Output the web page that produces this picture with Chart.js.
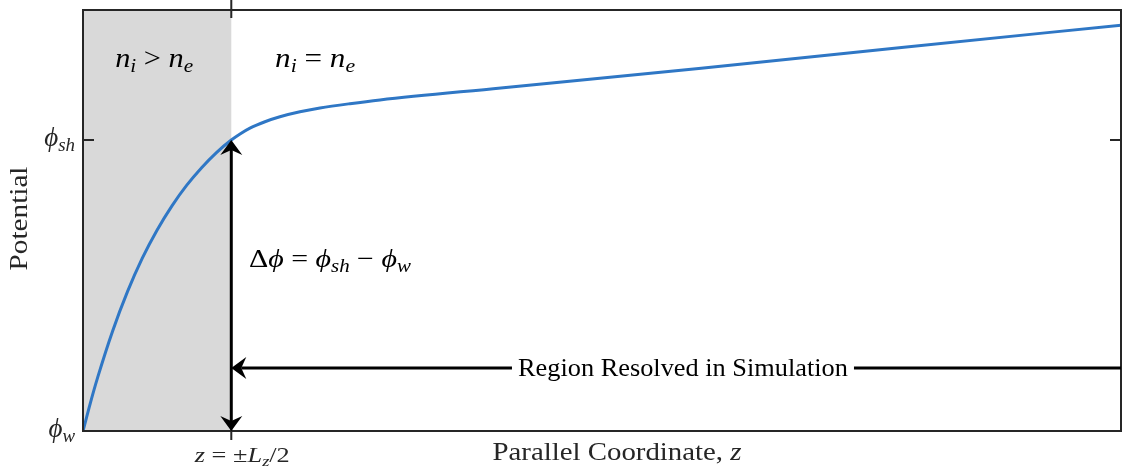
<!DOCTYPE html>
<html>
<head>
<meta charset="utf-8">
<script src="https://cdn.jsdelivr.net/npm/chart.js@4.4.1/dist/chart.umd.min.js"></script>
<style>
  html, body { margin: 0; padding: 0; background: #fff; }
  #wrap { width: 1125px; height: 472px; }
</style>
</head>
<body>
<div id="wrap"><canvas id="c" width="1125" height="472"></canvas></div>
<script>
// Sheath potential profile along the parallel coordinate z.
// z is measured in sheath widths (sheath edge at z = 1, i.e. z = ±L_z/2);
// the potential is normalised so that phi_w = 0 and phi_sh = 1.
const zValues   = [0, 0.05, 0.1, 0.2, 0.3, 0.4, 0.5, 0.6, 0.7, 0.8, 0.9, 1.0,
                   1.059, 1.126, 1.227, 1.328, 1.463, 1.598, 1.8, 2.003, 2.818, 4.169, 5.52, 7.0];
const phiValues = [0, 0.097, 0.186, 0.344, 0.479, 0.594, 0.691, 0.774, 0.845, 0.905, 0.957, 1.0,
                   1.021, 1.041, 1.063, 1.080, 1.097, 1.110, 1.125, 1.138, 1.179, 1.247, 1.318, 1.395];
const zRange   = [0, 7];
const phiRange = [0, 1.447];

const sheathEdge = 1.0;        // z = ±L_z/2
const phiWall    = 0;          // phi_w
const phiSheath  = 1.0;        // phi_sh
const phiRegionArrow = 0.2165; // height of the "Region Resolved" arrow

// Tick values and their labels; each label is a list of [text, style] runs
// style: 'n' upright, 'i' italic, second letter 's' = subscript
const yTickValues = [0, 1];
const yTickLabels = [
  [['ϕ', 'i'], ['w', 'is']],
  [['ϕ', 'i'], ['sh', 'is']]
];
const xTickValues = [1];
const xTickLabels = [
  [['z', 'i'], [' = ±', 'n'], ['L', 'i'], ['z', 'is'], ['/2', 'n']]
];

const xTitle = [['Parallel Coordinate, ', 'n'], ['z', 'i']];
const yTitle = [['Potential', 'n']];

// In-plot annotations, anchored in data coordinates
const notes = [
  { runs: [['n', 'i'], ['i', 'is'], [' > ', 'n'], ['n', 'i'], ['e', 'is']],
    z: 0.48, phi: 1.251, align: 'center', size: 27, width: 78 },
  { runs: [['n', 'i'], ['i', 'is'], [' = ', 'n'], ['n', 'i'], ['e', 'is']],
    z: 1.565, phi: 1.251, align: 'center', size: 27, width: 80 },
  { runs: [['Δ', 'n'], ['ϕ', 'i'], [' = ', 'n'], ['ϕ', 'i'], ['sh', 'is'], [' − ', 'n'], ['ϕ', 'i'], ['w', 'is']],
    z: 1.119, phi: 0.564, align: 'left', size: 26, width: 162 }
];
const regionLabel = { runs: [['Region Resolved in Simulation', 'n']], z: 4.046, size: 25, width: 330 };

const FONT = '"Liberation Serif", "Times New Roman", serif';
const AXIS_COLOR = '#262626';
const CURVE_COLOR = '#2f77c5';
const SHADE_COLOR = '#d9d9d9';

function fontFor(style, size) {
  const italic = style[0] === 'i';
  const sub = style[1] === 's';
  const s = sub ? size * 0.7 : size;
  return (italic ? 'italic ' : '') + s.toFixed(1) + 'px ' + FONT;
}
function runsWidth(ctx, runs, size) {
  let w = 0;
  for (const [t, st] of runs) { ctx.font = fontFor(st, size); w += ctx.measureText(t).width; }
  return w;
}
function drawRuns(ctx, runs, x, y, opt) {
  const size = opt.size;
  const natural = runsWidth(ctx, runs, size);
  const width = opt.width || natural;
  const sx = width / natural;
  ctx.save();
  ctx.translate(x, y);
  if (opt.rotate) ctx.rotate(opt.rotate);
  const x0 = opt.align === 'center' ? -width / 2 : opt.align === 'right' ? -width : 0;
  ctx.translate(x0, 0);
  ctx.scale(sx, 1);
  ctx.fillStyle = opt.color || '#000';
  ctx.textAlign = 'left';
  ctx.textBaseline = 'alphabetic';
  let cx = 0;
  for (const [t, st] of runs) {
    ctx.font = fontFor(st, size);
    const dy = st[1] === 's' ? size * 0.2 : 0;
    ctx.fillText(t, cx, dy);
    cx += ctx.measureText(t).width;
  }
  ctx.restore();
  return width;
}
function arrowHead(ctx, tx, ty, dx, dy) {
  const L = 15, hw = 11, notch = 5;
  const px = -dy, py = dx;
  ctx.beginPath();
  ctx.moveTo(tx, ty);
  ctx.lineTo(tx - dx * L + px * hw, ty - dy * L + py * hw);
  ctx.lineTo(tx - dx * (L - notch), ty - dy * (L - notch));
  ctx.lineTo(tx - dx * L - px * hw, ty - dy * L - py * hw);
  ctx.closePath();
  ctx.fillStyle = '#000';
  ctx.fill();
}

// Grey band marking the non-neutral sheath (n_i > n_e)
const sheathShade = {
  id: 'sheathShade',
  beforeDatasetsDraw(chart) {
    const { ctx, chartArea: a, scales: { x } } = chart;
    const x0 = x.getPixelForValue(zRange[0]);
    const x1 = x.getPixelForValue(sheathEdge);
    ctx.save();
    ctx.fillStyle = SHADE_COLOR;
    ctx.fillRect(x0, a.top, x1 - x0, a.bottom - a.top);
    ctx.restore();
  }
};

// Frame, ticks, labels, arrows and annotations
const decorations = {
  id: 'decorations',
  afterDatasetsDraw(chart) {
    const { ctx, chartArea: a, scales: { x, y } } = chart;
    ctx.save();

    // axes box
    ctx.strokeStyle = AXIS_COLOR;
    ctx.lineWidth = 2;
    ctx.strokeRect(a.left, a.top, a.right - a.left, a.bottom - a.top);

    // y ticks (inward, both sides)
    yTickValues.forEach(v => {
      const py = y.getPixelForValue(v);
      ctx.beginPath();
      ctx.moveTo(a.left, py); ctx.lineTo(a.left + 11, py);
      ctx.moveTo(a.right, py); ctx.lineTo(a.right - 11, py);
      ctx.stroke();
    });
    // x ticks (crossing the box at top and bottom)
    xTickValues.forEach(v => {
      const px = x.getPixelForValue(v);
      ctx.beginPath();
      ctx.moveTo(px, a.top - 10); ctx.lineTo(px, a.top + 8);
      ctx.moveTo(px, a.bottom - 8); ctx.lineTo(px, a.bottom + 9);
      ctx.stroke();
    });

    // tick labels
    yTickValues.forEach((v, i) => {
      drawRuns(ctx, yTickLabels[i], a.left - 8, y.getPixelForValue(v) + 6,
        { size: 27, align: 'right', color: AXIS_COLOR });
    });
    xTickValues.forEach((v, i) => {
      drawRuns(ctx, xTickLabels[i], x.getPixelForValue(v) + 11, a.bottom + 31,
        { size: 22, align: 'center', color: AXIS_COLOR, width: 95 });
    });

    // axis titles
    drawRuns(ctx, xTitle, (a.left + a.right) / 2 + 15, a.bottom + 29,
      { size: 25, align: 'center', color: AXIS_COLOR, width: 249 });
    drawRuns(ctx, yTitle, a.left - 56, (a.top + a.bottom) / 2 - 2,
      { size: 25, align: 'center', color: AXIS_COLOR, width: 104, rotate: -Math.PI / 2 });

    // vertical double arrow: potential drop across the sheath
    const xe = x.getPixelForValue(sheathEdge);
    const yTop = y.getPixelForValue(phiSheath);
    const yBot = y.getPixelForValue(phiWall);
    ctx.strokeStyle = '#000';
    ctx.lineWidth = 3;
    ctx.beginPath();
    ctx.moveTo(xe, yTop + 10); ctx.lineTo(xe, yBot - 10);
    ctx.stroke();
    arrowHead(ctx, xe, yTop, 0, -1);
    arrowHead(ctx, xe, yBot, 0, 1);

    // horizontal arrow: region resolved in simulation
    const yr = y.getPixelForValue(phiRegionArrow);
    const xr = x.getPixelForValue(zRange[1]);
    ctx.beginPath();
    ctx.moveTo(xr, yr); ctx.lineTo(xe + 10, yr);
    ctx.stroke();
    arrowHead(ctx, xe, yr, -1, 0);
    const cx = x.getPixelForValue(regionLabel.z);
    ctx.fillStyle = '#fff';
    ctx.fillRect(cx - regionLabel.width / 2 - 6, yr - 14, regionLabel.width + 12, 28);
    drawRuns(ctx, regionLabel.runs, cx, yr + 7.5,
      { size: regionLabel.size, align: 'center', width: regionLabel.width });

    // annotations
    notes.forEach(n => {
      drawRuns(ctx, n.runs, x.getPixelForValue(n.z), y.getPixelForValue(n.phi),
        { size: n.size, align: n.align, width: n.width });
    });

    ctx.restore();
  }
};

new Chart(document.getElementById('c').getContext('2d'), {
  type: 'line',
  data: {
    datasets: [{
      data: zValues.map((z, i) => ({ x: z, y: phiValues[i] })),
      borderColor: CURVE_COLOR,
      borderWidth: 3,
      pointRadius: 0,
      fill: false,
      cubicInterpolationMode: 'monotone'
    }]
  },
  options: {
    responsive: false,
    animation: false,
    events: [],
    layout: { padding: { left: 83, right: 4, top: 10, bottom: 41 } },
    plugins: { legend: { display: false }, tooltip: { enabled: false } },
    scales: {
      x: { type: 'linear', min: zRange[0], max: zRange[1], display: false },
      y: { type: 'linear', min: phiRange[0], max: phiRange[1], display: false }
    }
  },
  plugins: [sheathShade, decorations]
});
</script>
</body>
</html>
